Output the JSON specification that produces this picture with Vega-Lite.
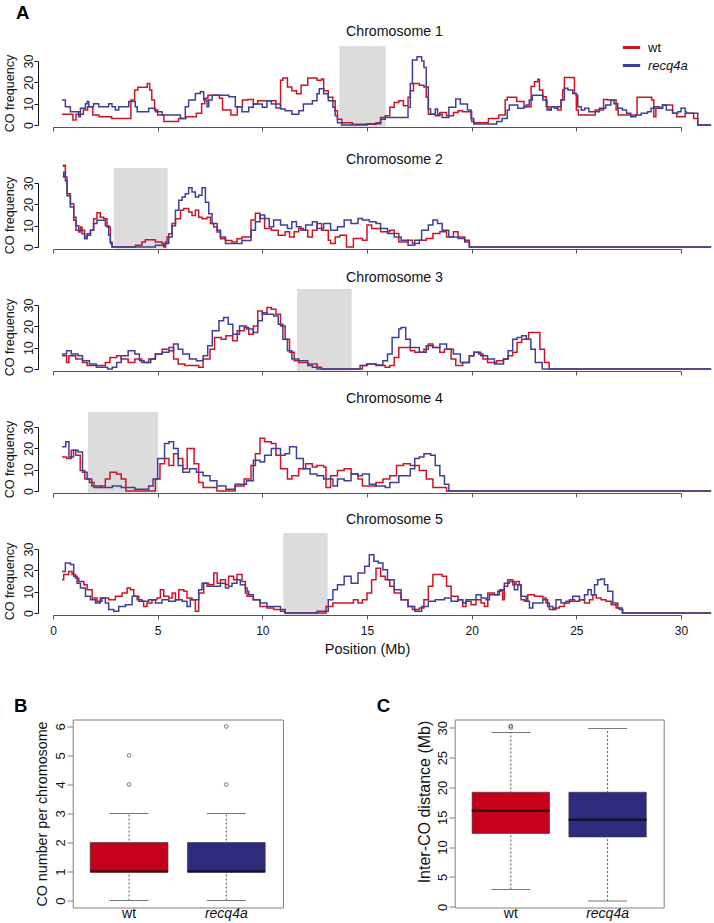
{
  "$schema": "https://vega.github.io/schema/vega-lite/v6.json",
  "padding": {"left": 3, "top": 3, "right": 0, "bottom": 0},
  "config": {
    "font": "Liberation Sans",
    "view": {"stroke": null},
    "axis": {"grid": false, "labelColor": "#111", "titleColor": "#111", "titleFontWeight": "normal", "labelFlush": false, "labelOverlap": false},
    "title": {"fontWeight": "normal", "color": "#111"}
  },
  "datasets": {
    "cen": [
      {"chr": 1, "start": 13.68, "end": 15.9},
      {"chr": 2, "start": 2.9, "end": 5.48},
      {"chr": 3, "start": 11.66, "end": 14.27},
      {"chr": 4, "start": 1.67, "end": 5.02},
      {"chr": 5, "start": 11.0, "end": 13.12}
    ],
    "bbox": [
      {"g": "wt", "lo": 0, "q1": 1, "med": 1, "q3": 2, "hi": 3},
      {"g": "recq4a", "lo": 0, "q1": 1, "med": 1, "q3": 2, "hi": 3}
    ],
    "bout": [
      {"g": "wt", "v": 4}, {"g": "wt", "v": 5}, {"g": "recq4a", "v": 4}, {"g": "recq4a", "v": 6}
    ],
    "cbox": [
      {"g": "wt", "lo": 2.9, "q1": 12.3, "med": 16.1, "q3": 19.2, "hi": 29.2},
      {"g": "recq4a", "lo": 0.95, "q1": 11.7, "med": 14.6, "q3": 19.2, "hi": 29.9}
    ],
    "cout": [
      {"g": "wt", "v": 30.05}, {"g": "wt", "v": 30.3}
    ],
    "co": [
      {"chr":1,"g":"wt","pos":0.43,"co":5},{"chr":1,"g":"wt","pos":0.95,"co":2.3},{"chr":1,"g":"wt","pos":1.1,"co":5},{"chr":1,"g":"wt","pos":1.45,"co":7},{"chr":1,"g":"wt","pos":1.65,"co":8.6},{"chr":1,"g":"wt","pos":1.9,"co":4.7},{"chr":1,"g":"wt","pos":2.2,"co":3.9},{"chr":1,"g":"wt","pos":2.8,"co":3},{"chr":1,"g":"wt","pos":3.72,"co":11.7},{"chr":1,"g":"wt","pos":3.9,"co":16.4},{"chr":1,"g":"wt","pos":4.05,"co":17.7},{"chr":1,"g":"wt","pos":4.5,"co":19.5},{"chr":1,"g":"wt","pos":4.62,"co":16.4},{"chr":1,"g":"wt","pos":4.72,"co":11.7},{"chr":1,"g":"wt","pos":4.85,"co":7},{"chr":1,"g":"wt","pos":5.0,"co":4.7},{"chr":1,"g":"wt","pos":5.3,"co":1.6},{"chr":1,"g":"wt","pos":6.0,"co":3},{"chr":1,"g":"wt","pos":6.35,"co":3.9},{"chr":1,"g":"wt","pos":6.85,"co":5.5},{"chr":1,"g":"wt","pos":7.1,"co":10},{"chr":1,"g":"wt","pos":7.25,"co":12.5},{"chr":1,"g":"wt","pos":7.4,"co":14},{"chr":1,"g":"wt","pos":7.95,"co":12.5},{"chr":1,"g":"wt","pos":8.1,"co":7},{"chr":1,"g":"wt","pos":8.5,"co":4.7},{"chr":1,"g":"wt","pos":8.8,"co":8.6},{"chr":1,"g":"wt","pos":9.05,"co":11.7},{"chr":1,"g":"wt","pos":9.3,"co":12},{"chr":1,"g":"wt","pos":9.57,"co":9.8},{"chr":1,"g":"wt","pos":9.78,"co":11.4},{"chr":1,"g":"wt","pos":10.65,"co":8},{"chr":1,"g":"wt","pos":10.87,"co":21},{"chr":1,"g":"wt","pos":10.98,"co":22},{"chr":1,"g":"wt","pos":11.2,"co":17.8},{"chr":1,"g":"wt","pos":11.41,"co":16},{"chr":1,"g":"wt","pos":11.63,"co":14.6},{"chr":1,"g":"wt","pos":11.85,"co":18.6},{"chr":1,"g":"wt","pos":12.17,"co":22},{"chr":1,"g":"wt","pos":12.61,"co":21},{"chr":1,"g":"wt","pos":12.83,"co":21.6},{"chr":1,"g":"wt","pos":12.93,"co":16},{"chr":1,"g":"wt","pos":13.15,"co":13},{"chr":1,"g":"wt","pos":13.37,"co":11.4},{"chr":1,"g":"wt","pos":13.48,"co":6.7},{"chr":1,"g":"wt","pos":13.59,"co":2.7},{"chr":1,"g":"wt","pos":13.8,"co":1.1},{"chr":1,"g":"wt","pos":14.3,"co":0.3},{"chr":1,"g":"wt","pos":15.43,"co":1},{"chr":1,"g":"wt","pos":15.65,"co":3.5},{"chr":1,"g":"wt","pos":15.87,"co":4.3},{"chr":1,"g":"wt","pos":16.09,"co":8.3},{"chr":1,"g":"wt","pos":16.3,"co":10.6},{"chr":1,"g":"wt","pos":16.52,"co":11.4},{"chr":1,"g":"wt","pos":16.74,"co":9},{"chr":1,"g":"wt","pos":16.96,"co":13},{"chr":1,"g":"wt","pos":17.07,"co":16},{"chr":1,"g":"wt","pos":17.22,"co":19.4},{"chr":1,"g":"wt","pos":17.5,"co":18.6},{"chr":1,"g":"wt","pos":17.72,"co":17.8},{"chr":1,"g":"wt","pos":17.83,"co":13},{"chr":1,"g":"wt","pos":17.93,"co":5},{"chr":1,"g":"wt","pos":18.26,"co":4.3},{"chr":1,"g":"wt","pos":18.48,"co":5.9},{"chr":1,"g":"wt","pos":18.8,"co":4.3},{"chr":1,"g":"wt","pos":19.13,"co":5.9},{"chr":1,"g":"wt","pos":19.35,"co":6.7},{"chr":1,"g":"wt","pos":19.57,"co":6.25},{"chr":1,"g":"wt","pos":20.0,"co":1.6},{"chr":1,"g":"wt","pos":20.1,"co":1.1},{"chr":1,"g":"wt","pos":20.8,"co":3.1},{"chr":1,"g":"wt","pos":21.3,"co":4.7},{"chr":1,"g":"wt","pos":21.6,"co":11.7},{"chr":1,"g":"wt","pos":21.7,"co":13},{"chr":1,"g":"wt","pos":22.15,"co":11},{"chr":1,"g":"wt","pos":22.5,"co":8.6},{"chr":1,"g":"wt","pos":22.84,"co":18},{"chr":1,"g":"wt","pos":23.0,"co":20.3},{"chr":1,"g":"wt","pos":23.16,"co":21.4},{"chr":1,"g":"wt","pos":23.24,"co":16.4},{"chr":1,"g":"wt","pos":23.4,"co":13.3},{"chr":1,"g":"wt","pos":23.56,"co":8.6},{"chr":1,"g":"wt","pos":23.7,"co":7},{"chr":1,"g":"wt","pos":23.8,"co":8.6},{"chr":1,"g":"wt","pos":24.11,"co":7},{"chr":1,"g":"wt","pos":24.27,"co":11.7},{"chr":1,"g":"wt","pos":24.35,"co":16.4},{"chr":1,"g":"wt","pos":24.43,"co":22.3},{"chr":1,"g":"wt","pos":24.91,"co":14.8},{"chr":1,"g":"wt","pos":25.0,"co":7},{"chr":1,"g":"wt","pos":25.1,"co":4.7},{"chr":1,"g":"wt","pos":25.9,"co":7},{"chr":1,"g":"wt","pos":26.3,"co":12},{"chr":1,"g":"wt","pos":26.5,"co":11.7},{"chr":1,"g":"wt","pos":26.9,"co":7},{"chr":1,"g":"wt","pos":27.0,"co":4.7},{"chr":1,"g":"wt","pos":27.9,"co":13},{"chr":1,"g":"wt","pos":28.6,"co":11.7},{"chr":1,"g":"wt","pos":28.7,"co":3.9},{"chr":1,"g":"wt","pos":28.8,"co":7.8},{"chr":1,"g":"wt","pos":29.1,"co":9.4},{"chr":1,"g":"wt","pos":29.6,"co":5.5},{"chr":1,"g":"wt","pos":29.8,"co":3.9},{"chr":1,"g":"wt","pos":30.2,"co":5.5},{"chr":1,"g":"wt","pos":30.6,"co":3.1},{"chr":1,"g":"wt","pos":30.8,"co":0},{"chr":1,"g":"wt","pos":31.44,"co":0},
      {"chr":1,"g":"recq4a","pos":0.43,"co":11.7},{"chr":1,"g":"recq4a","pos":0.59,"co":8.6},{"chr":1,"g":"recq4a","pos":0.83,"co":6.25},{"chr":1,"g":"recq4a","pos":1.23,"co":3.9},{"chr":1,"g":"recq4a","pos":1.31,"co":7.8},{"chr":1,"g":"recq4a","pos":1.55,"co":10},{"chr":1,"g":"recq4a","pos":1.63,"co":11},{"chr":1,"g":"recq4a","pos":1.71,"co":8.6},{"chr":1,"g":"recq4a","pos":1.94,"co":10},{"chr":1,"g":"recq4a","pos":2.18,"co":8.6},{"chr":1,"g":"recq4a","pos":2.66,"co":10},{"chr":1,"g":"recq4a","pos":2.82,"co":8.6},{"chr":1,"g":"recq4a","pos":2.98,"co":7},{"chr":1,"g":"recq4a","pos":3.14,"co":8.6},{"chr":1,"g":"recq4a","pos":3.62,"co":11},{"chr":1,"g":"recq4a","pos":3.93,"co":8.6},{"chr":1,"g":"recq4a","pos":4.02,"co":6.25},{"chr":1,"g":"recq4a","pos":4.57,"co":7.8},{"chr":1,"g":"recq4a","pos":4.89,"co":6.25},{"chr":1,"g":"recq4a","pos":5.21,"co":4.7},{"chr":1,"g":"recq4a","pos":6.09,"co":3},{"chr":1,"g":"recq4a","pos":6.32,"co":8.6},{"chr":1,"g":"recq4a","pos":6.48,"co":11.7},{"chr":1,"g":"recq4a","pos":6.8,"co":14.8},{"chr":1,"g":"recq4a","pos":7.04,"co":15.6},{"chr":1,"g":"recq4a","pos":7.2,"co":11.7},{"chr":1,"g":"recq4a","pos":7.36,"co":8.6},{"chr":1,"g":"recq4a","pos":7.44,"co":11.7},{"chr":1,"g":"recq4a","pos":7.6,"co":14},{"chr":1,"g":"recq4a","pos":8.4,"co":13.3},{"chr":1,"g":"recq4a","pos":8.71,"co":8.6},{"chr":1,"g":"recq4a","pos":9.03,"co":6.25},{"chr":1,"g":"recq4a","pos":9.35,"co":8.3},{"chr":1,"g":"recq4a","pos":9.57,"co":9.8},{"chr":1,"g":"recq4a","pos":10.0,"co":8.3},{"chr":1,"g":"recq4a","pos":10.22,"co":11.4},{"chr":1,"g":"recq4a","pos":10.43,"co":9.8},{"chr":1,"g":"recq4a","pos":10.87,"co":7.5},{"chr":1,"g":"recq4a","pos":11.09,"co":6.7},{"chr":1,"g":"recq4a","pos":11.41,"co":5},{"chr":1,"g":"recq4a","pos":11.74,"co":6.7},{"chr":1,"g":"recq4a","pos":11.96,"co":9.8},{"chr":1,"g":"recq4a","pos":12.39,"co":11.4},{"chr":1,"g":"recq4a","pos":12.61,"co":14.6},{"chr":1,"g":"recq4a","pos":12.72,"co":17},{"chr":1,"g":"recq4a","pos":12.93,"co":14.6},{"chr":1,"g":"recq4a","pos":13.15,"co":11.4},{"chr":1,"g":"recq4a","pos":13.37,"co":8.3},{"chr":1,"g":"recq4a","pos":13.48,"co":4.3},{"chr":1,"g":"recq4a","pos":13.59,"co":1.1},{"chr":1,"g":"recq4a","pos":13.8,"co":0},{"chr":1,"g":"recq4a","pos":15.0,"co":0.6},{"chr":1,"g":"recq4a","pos":15.65,"co":2.7},{"chr":1,"g":"recq4a","pos":15.87,"co":3.5},{"chr":1,"g":"recq4a","pos":16.96,"co":8.3},{"chr":1,"g":"recq4a","pos":17.07,"co":19.4},{"chr":1,"g":"recq4a","pos":17.17,"co":30.5},{"chr":1,"g":"recq4a","pos":17.39,"co":32},{"chr":1,"g":"recq4a","pos":17.61,"co":30},{"chr":1,"g":"recq4a","pos":17.72,"co":27},{"chr":1,"g":"recq4a","pos":17.83,"co":17.8},{"chr":1,"g":"recq4a","pos":17.93,"co":7.5},{"chr":1,"g":"recq4a","pos":18.04,"co":5},{"chr":1,"g":"recq4a","pos":18.26,"co":7.5},{"chr":1,"g":"recq4a","pos":18.37,"co":5},{"chr":1,"g":"recq4a","pos":18.59,"co":3.5},{"chr":1,"g":"recq4a","pos":18.91,"co":8.3},{"chr":1,"g":"recq4a","pos":19.24,"co":12.2},{"chr":1,"g":"recq4a","pos":19.46,"co":9.8},{"chr":1,"g":"recq4a","pos":19.8,"co":7},{"chr":1,"g":"recq4a","pos":19.97,"co":3.1},{"chr":1,"g":"recq4a","pos":20.1,"co":0.5},{"chr":1,"g":"recq4a","pos":21.2,"co":1.6},{"chr":1,"g":"recq4a","pos":21.45,"co":3.1},{"chr":1,"g":"recq4a","pos":21.7,"co":7},{"chr":1,"g":"recq4a","pos":21.8,"co":9.4},{"chr":1,"g":"recq4a","pos":22.2,"co":7.8},{"chr":1,"g":"recq4a","pos":22.5,"co":8.6},{"chr":1,"g":"recq4a","pos":22.6,"co":9.4},{"chr":1,"g":"recq4a","pos":22.75,"co":11.7},{"chr":1,"g":"recq4a","pos":22.9,"co":14},{"chr":1,"g":"recq4a","pos":23.4,"co":11.7},{"chr":1,"g":"recq4a","pos":23.6,"co":7},{"chr":1,"g":"recq4a","pos":23.8,"co":8.6},{"chr":1,"g":"recq4a","pos":23.95,"co":7.8},{"chr":1,"g":"recq4a","pos":24.1,"co":8.6},{"chr":1,"g":"recq4a","pos":24.27,"co":11.7},{"chr":1,"g":"recq4a","pos":24.43,"co":17.2},{"chr":1,"g":"recq4a","pos":24.6,"co":16.4},{"chr":1,"g":"recq4a","pos":24.83,"co":14.8},{"chr":1,"g":"recq4a","pos":25.0,"co":14},{"chr":1,"g":"recq4a","pos":25.07,"co":8.6},{"chr":1,"g":"recq4a","pos":25.23,"co":7},{"chr":1,"g":"recq4a","pos":25.4,"co":7.8},{"chr":1,"g":"recq4a","pos":25.6,"co":6.25},{"chr":1,"g":"recq4a","pos":26.1,"co":7.8},{"chr":1,"g":"recq4a","pos":26.4,"co":9.4},{"chr":1,"g":"recq4a","pos":26.65,"co":11.7},{"chr":1,"g":"recq4a","pos":26.8,"co":10},{"chr":1,"g":"recq4a","pos":26.98,"co":7.8},{"chr":1,"g":"recq4a","pos":27.2,"co":7},{"chr":1,"g":"recq4a","pos":27.4,"co":5.5},{"chr":1,"g":"recq4a","pos":27.6,"co":3.9},{"chr":1,"g":"recq4a","pos":27.85,"co":4.7},{"chr":1,"g":"recq4a","pos":28.1,"co":5.5},{"chr":1,"g":"recq4a","pos":28.4,"co":6.25},{"chr":1,"g":"recq4a","pos":28.57,"co":7.8},{"chr":1,"g":"recq4a","pos":28.73,"co":8.6},{"chr":1,"g":"recq4a","pos":28.97,"co":7.8},{"chr":1,"g":"recq4a","pos":29.13,"co":9.4},{"chr":1,"g":"recq4a","pos":29.3,"co":7},{"chr":1,"g":"recq4a","pos":29.6,"co":5.5},{"chr":1,"g":"recq4a","pos":29.85,"co":6.25},{"chr":1,"g":"recq4a","pos":30.0,"co":7.8},{"chr":1,"g":"recq4a","pos":30.2,"co":6.25},{"chr":1,"g":"recq4a","pos":30.24,"co":5.5},{"chr":1,"g":"recq4a","pos":30.8,"co":0},{"chr":1,"g":"recq4a","pos":31.44,"co":0},
      {"chr":2,"g":"wt","pos":0.47,"co":37.8},{"chr":2,"g":"wt","pos":0.51,"co":38.3},{"chr":2,"g":"wt","pos":0.59,"co":32.8},{"chr":2,"g":"wt","pos":0.67,"co":25},{"chr":2,"g":"wt","pos":0.83,"co":20.3},{"chr":2,"g":"wt","pos":0.99,"co":12.5},{"chr":2,"g":"wt","pos":1.1,"co":7.8},{"chr":2,"g":"wt","pos":1.23,"co":7},{"chr":2,"g":"wt","pos":1.31,"co":9.4},{"chr":2,"g":"wt","pos":1.39,"co":7.8},{"chr":2,"g":"wt","pos":1.51,"co":4.7},{"chr":2,"g":"wt","pos":1.63,"co":6.25},{"chr":2,"g":"wt","pos":1.79,"co":7.8},{"chr":2,"g":"wt","pos":1.94,"co":13.3},{"chr":2,"g":"wt","pos":2.1,"co":16},{"chr":2,"g":"wt","pos":2.26,"co":14},{"chr":2,"g":"wt","pos":2.42,"co":13.3},{"chr":2,"g":"wt","pos":2.58,"co":9.4},{"chr":2,"g":"wt","pos":2.74,"co":2.3},{"chr":2,"g":"wt","pos":2.82,"co":0},{"chr":2,"g":"wt","pos":3.94,"co":0.8},{"chr":2,"g":"wt","pos":4.25,"co":2.3},{"chr":2,"g":"wt","pos":4.41,"co":3.4},{"chr":2,"g":"wt","pos":4.81,"co":3.4},{"chr":2,"g":"wt","pos":4.89,"co":2.3},{"chr":2,"g":"wt","pos":5.21,"co":1.6},{"chr":2,"g":"wt","pos":5.29,"co":0},{"chr":2,"g":"wt","pos":5.37,"co":2.3},{"chr":2,"g":"wt","pos":5.45,"co":4.7},{"chr":2,"g":"wt","pos":5.53,"co":6.25},{"chr":2,"g":"wt","pos":5.69,"co":11},{"chr":2,"g":"wt","pos":5.85,"co":13.3},{"chr":2,"g":"wt","pos":6.09,"co":17.2},{"chr":2,"g":"wt","pos":6.24,"co":18},{"chr":2,"g":"wt","pos":6.48,"co":16.4},{"chr":2,"g":"wt","pos":6.64,"co":14.8},{"chr":2,"g":"wt","pos":6.8,"co":17.2},{"chr":2,"g":"wt","pos":6.96,"co":14},{"chr":2,"g":"wt","pos":7.12,"co":13.3},{"chr":2,"g":"wt","pos":7.36,"co":14},{"chr":2,"g":"wt","pos":7.52,"co":11},{"chr":2,"g":"wt","pos":7.68,"co":9.4},{"chr":2,"g":"wt","pos":7.84,"co":7},{"chr":2,"g":"wt","pos":8.0,"co":3.9},{"chr":2,"g":"wt","pos":8.24,"co":3.1},{"chr":2,"g":"wt","pos":8.55,"co":2.3},{"chr":2,"g":"wt","pos":8.79,"co":3.9},{"chr":2,"g":"wt","pos":9.03,"co":4.7},{"chr":2,"g":"wt","pos":9.46,"co":12.6},{"chr":2,"g":"wt","pos":9.67,"co":15.8},{"chr":2,"g":"wt","pos":9.89,"co":13.4},{"chr":2,"g":"wt","pos":10.11,"co":8.7},{"chr":2,"g":"wt","pos":10.43,"co":7.9},{"chr":2,"g":"wt","pos":10.76,"co":5.5},{"chr":2,"g":"wt","pos":11.09,"co":7.1},{"chr":2,"g":"wt","pos":11.3,"co":4.7},{"chr":2,"g":"wt","pos":11.52,"co":7.1},{"chr":2,"g":"wt","pos":11.74,"co":8.7},{"chr":2,"g":"wt","pos":11.96,"co":7.9},{"chr":2,"g":"wt","pos":12.17,"co":4.7},{"chr":2,"g":"wt","pos":12.39,"co":7.9},{"chr":2,"g":"wt","pos":12.61,"co":11},{"chr":2,"g":"wt","pos":12.83,"co":7.9},{"chr":2,"g":"wt","pos":13.15,"co":3.2},{"chr":2,"g":"wt","pos":13.26,"co":1.6},{"chr":2,"g":"wt","pos":13.48,"co":4.7},{"chr":2,"g":"wt","pos":13.7,"co":5.5},{"chr":2,"g":"wt","pos":14.02,"co":0},{"chr":2,"g":"wt","pos":14.35,"co":4},{"chr":2,"g":"wt","pos":14.78,"co":3.2},{"chr":2,"g":"wt","pos":15.0,"co":10.3},{"chr":2,"g":"wt","pos":15.22,"co":8.7},{"chr":2,"g":"wt","pos":15.65,"co":7.1},{"chr":2,"g":"wt","pos":16.09,"co":7.9},{"chr":2,"g":"wt","pos":16.3,"co":6.3},{"chr":2,"g":"wt","pos":16.52,"co":2.4},{"chr":2,"g":"wt","pos":16.96,"co":3.2},{"chr":2,"g":"wt","pos":17.17,"co":1.6},{"chr":2,"g":"wt","pos":17.5,"co":3.2},{"chr":2,"g":"wt","pos":17.83,"co":4},{"chr":2,"g":"wt","pos":18.15,"co":6.3},{"chr":2,"g":"wt","pos":18.48,"co":7.1},{"chr":2,"g":"wt","pos":18.8,"co":4.7},{"chr":2,"g":"wt","pos":19.13,"co":7.1},{"chr":2,"g":"wt","pos":19.35,"co":4.7},{"chr":2,"g":"wt","pos":19.67,"co":3.2},{"chr":2,"g":"wt","pos":19.89,"co":0},{"chr":2,"g":"wt","pos":31.44,"co":0},
      {"chr":2,"g":"recq4a","pos":0.47,"co":32.8},{"chr":2,"g":"recq4a","pos":0.51,"co":35},{"chr":2,"g":"recq4a","pos":0.59,"co":31},{"chr":2,"g":"recq4a","pos":0.67,"co":24},{"chr":2,"g":"recq4a","pos":0.83,"co":18.8},{"chr":2,"g":"recq4a","pos":0.99,"co":14},{"chr":2,"g":"recq4a","pos":1.1,"co":10},{"chr":2,"g":"recq4a","pos":1.23,"co":7.8},{"chr":2,"g":"recq4a","pos":1.39,"co":6.25},{"chr":2,"g":"recq4a","pos":1.51,"co":3.9},{"chr":2,"g":"recq4a","pos":1.63,"co":5.5},{"chr":2,"g":"recq4a","pos":1.79,"co":7.8},{"chr":2,"g":"recq4a","pos":1.94,"co":11},{"chr":2,"g":"recq4a","pos":2.1,"co":12.5},{"chr":2,"g":"recq4a","pos":2.34,"co":12.5},{"chr":2,"g":"recq4a","pos":2.5,"co":10},{"chr":2,"g":"recq4a","pos":2.66,"co":5.5},{"chr":2,"g":"recq4a","pos":2.74,"co":1.6},{"chr":2,"g":"recq4a","pos":2.82,"co":0},{"chr":2,"g":"recq4a","pos":4.89,"co":0.8},{"chr":2,"g":"recq4a","pos":5.37,"co":1.6},{"chr":2,"g":"recq4a","pos":5.53,"co":4.7},{"chr":2,"g":"recq4a","pos":5.69,"co":10},{"chr":2,"g":"recq4a","pos":5.85,"co":17.2},{"chr":2,"g":"recq4a","pos":6.01,"co":21.9},{"chr":2,"g":"recq4a","pos":6.17,"co":23.4},{"chr":2,"g":"recq4a","pos":6.32,"co":25},{"chr":2,"g":"recq4a","pos":6.48,"co":27.8},{"chr":2,"g":"recq4a","pos":6.64,"co":25.8},{"chr":2,"g":"recq4a","pos":6.8,"co":23.4},{"chr":2,"g":"recq4a","pos":6.96,"co":24.2},{"chr":2,"g":"recq4a","pos":7.12,"co":27.8},{"chr":2,"g":"recq4a","pos":7.28,"co":21},{"chr":2,"g":"recq4a","pos":7.44,"co":15.6},{"chr":2,"g":"recq4a","pos":7.6,"co":11},{"chr":2,"g":"recq4a","pos":7.84,"co":7.8},{"chr":2,"g":"recq4a","pos":8.0,"co":4.7},{"chr":2,"g":"recq4a","pos":8.24,"co":1.6},{"chr":2,"g":"recq4a","pos":9.03,"co":3.1},{"chr":2,"g":"recq4a","pos":9.46,"co":7.9},{"chr":2,"g":"recq4a","pos":9.67,"co":11.8},{"chr":2,"g":"recq4a","pos":9.89,"co":15},{"chr":2,"g":"recq4a","pos":10.11,"co":13.4},{"chr":2,"g":"recq4a","pos":10.33,"co":9.5},{"chr":2,"g":"recq4a","pos":10.54,"co":12.6},{"chr":2,"g":"recq4a","pos":10.87,"co":10.3},{"chr":2,"g":"recq4a","pos":11.2,"co":8.7},{"chr":2,"g":"recq4a","pos":11.41,"co":11.8},{"chr":2,"g":"recq4a","pos":11.63,"co":9.5},{"chr":2,"g":"recq4a","pos":11.85,"co":7.9},{"chr":2,"g":"recq4a","pos":12.07,"co":10.3},{"chr":2,"g":"recq4a","pos":12.39,"co":11.8},{"chr":2,"g":"recq4a","pos":12.61,"co":8.7},{"chr":2,"g":"recq4a","pos":12.93,"co":11},{"chr":2,"g":"recq4a","pos":13.26,"co":7.9},{"chr":2,"g":"recq4a","pos":13.59,"co":9.5},{"chr":2,"g":"recq4a","pos":13.91,"co":12.6},{"chr":2,"g":"recq4a","pos":14.24,"co":11},{"chr":2,"g":"recq4a","pos":14.57,"co":13.4},{"chr":2,"g":"recq4a","pos":14.78,"co":12.6},{"chr":2,"g":"recq4a","pos":15.11,"co":11.8},{"chr":2,"g":"recq4a","pos":15.43,"co":11},{"chr":2,"g":"recq4a","pos":15.65,"co":8.7},{"chr":2,"g":"recq4a","pos":15.98,"co":6.3},{"chr":2,"g":"recq4a","pos":16.3,"co":4.7},{"chr":2,"g":"recq4a","pos":16.63,"co":3.2},{"chr":2,"g":"recq4a","pos":16.96,"co":0.8},{"chr":2,"g":"recq4a","pos":17.28,"co":3.2},{"chr":2,"g":"recq4a","pos":17.61,"co":7.9},{"chr":2,"g":"recq4a","pos":17.93,"co":10.3},{"chr":2,"g":"recq4a","pos":18.15,"co":12.6},{"chr":2,"g":"recq4a","pos":18.37,"co":11},{"chr":2,"g":"recq4a","pos":18.59,"co":7.9},{"chr":2,"g":"recq4a","pos":18.91,"co":4.7},{"chr":2,"g":"recq4a","pos":19.35,"co":4},{"chr":2,"g":"recq4a","pos":19.67,"co":2.4},{"chr":2,"g":"recq4a","pos":19.89,"co":0},{"chr":2,"g":"recq4a","pos":31.44,"co":0},
      {"chr":3,"g":"wt","pos":0.43,"co":6.2},{"chr":3,"g":"wt","pos":0.65,"co":3.1},{"chr":3,"g":"wt","pos":0.76,"co":6.2},{"chr":3,"g":"wt","pos":1.09,"co":4.7},{"chr":3,"g":"wt","pos":1.41,"co":3.1},{"chr":3,"g":"wt","pos":1.63,"co":1.6},{"chr":3,"g":"wt","pos":2.5,"co":3.1},{"chr":3,"g":"wt","pos":2.72,"co":5.4},{"chr":3,"g":"wt","pos":3.04,"co":6.2},{"chr":3,"g":"wt","pos":3.26,"co":4.7},{"chr":3,"g":"wt","pos":3.59,"co":3.1},{"chr":3,"g":"wt","pos":3.91,"co":4.7},{"chr":3,"g":"wt","pos":4.24,"co":3.1},{"chr":3,"g":"wt","pos":4.57,"co":4.7},{"chr":3,"g":"wt","pos":4.89,"co":7},{"chr":3,"g":"wt","pos":5.22,"co":9.3},{"chr":3,"g":"wt","pos":5.54,"co":10.1},{"chr":3,"g":"wt","pos":5.76,"co":4.7},{"chr":3,"g":"wt","pos":5.98,"co":2.3},{"chr":3,"g":"wt","pos":6.3,"co":1.6},{"chr":3,"g":"wt","pos":6.96,"co":0.8},{"chr":3,"g":"wt","pos":7.17,"co":4.7},{"chr":3,"g":"wt","pos":7.5,"co":9.3},{"chr":3,"g":"wt","pos":7.72,"co":14.8},{"chr":3,"g":"wt","pos":8.04,"co":14},{"chr":3,"g":"wt","pos":8.26,"co":15.6},{"chr":3,"g":"wt","pos":8.59,"co":13.2},{"chr":3,"g":"wt","pos":8.8,"co":17.9},{"chr":3,"g":"wt","pos":9.13,"co":19.4},{"chr":3,"g":"wt","pos":9.35,"co":16.3},{"chr":3,"g":"wt","pos":9.57,"co":20.2},{"chr":3,"g":"wt","pos":9.78,"co":27.2},{"chr":3,"g":"wt","pos":10.0,"co":25.7},{"chr":3,"g":"wt","pos":10.22,"co":28.8},{"chr":3,"g":"wt","pos":10.43,"co":28},{"chr":3,"g":"wt","pos":10.65,"co":25.7},{"chr":3,"g":"wt","pos":10.87,"co":20.2},{"chr":3,"g":"wt","pos":11.09,"co":14},{"chr":3,"g":"wt","pos":11.3,"co":7.8},{"chr":3,"g":"wt","pos":11.52,"co":3.9},{"chr":3,"g":"wt","pos":11.74,"co":3.1},{"chr":3,"g":"wt","pos":12.17,"co":2.3},{"chr":3,"g":"wt","pos":12.61,"co":0.8},{"chr":3,"g":"wt","pos":12.83,"co":0},{"chr":3,"g":"wt","pos":14.78,"co":1.6},{"chr":3,"g":"wt","pos":15.0,"co":2.3},{"chr":3,"g":"wt","pos":15.43,"co":1.6},{"chr":3,"g":"wt","pos":15.87,"co":0.8},{"chr":3,"g":"wt","pos":16.09,"co":1.6},{"chr":3,"g":"wt","pos":16.3,"co":5.4},{"chr":3,"g":"wt","pos":16.52,"co":10.1},{"chr":3,"g":"wt","pos":17.07,"co":8.6},{"chr":3,"g":"wt","pos":17.28,"co":7.8},{"chr":3,"g":"wt","pos":17.72,"co":9.3},{"chr":3,"g":"wt","pos":17.93,"co":11.7},{"chr":3,"g":"wt","pos":18.15,"co":10.1},{"chr":3,"g":"wt","pos":18.48,"co":7.8},{"chr":3,"g":"wt","pos":18.7,"co":9.3},{"chr":3,"g":"wt","pos":19.02,"co":4.7},{"chr":3,"g":"wt","pos":19.24,"co":1.6},{"chr":3,"g":"wt","pos":19.57,"co":3.1},{"chr":3,"g":"wt","pos":19.89,"co":6.2},{"chr":3,"g":"wt","pos":20.11,"co":7.8},{"chr":3,"g":"wt","pos":20.33,"co":7},{"chr":3,"g":"wt","pos":20.54,"co":4.7},{"chr":3,"g":"wt","pos":20.76,"co":3.1},{"chr":3,"g":"wt","pos":21.2,"co":3.9},{"chr":3,"g":"wt","pos":21.52,"co":4.7},{"chr":3,"g":"wt","pos":21.74,"co":6.2},{"chr":3,"g":"wt","pos":21.96,"co":7.8},{"chr":3,"g":"wt","pos":22.17,"co":12.4},{"chr":3,"g":"wt","pos":22.39,"co":14},{"chr":3,"g":"wt","pos":22.72,"co":17.1},{"chr":3,"g":"wt","pos":23.26,"co":9.3},{"chr":3,"g":"wt","pos":23.48,"co":3.1},{"chr":3,"g":"wt","pos":23.7,"co":0},{"chr":3,"g":"wt","pos":31.44,"co":0},
      {"chr":3,"g":"recq4a","pos":0.43,"co":7},{"chr":3,"g":"recq4a","pos":0.65,"co":8.6},{"chr":3,"g":"recq4a","pos":0.87,"co":7},{"chr":3,"g":"recq4a","pos":1.2,"co":6.2},{"chr":3,"g":"recq4a","pos":1.41,"co":3.9},{"chr":3,"g":"recq4a","pos":1.74,"co":2.3},{"chr":3,"g":"recq4a","pos":2.07,"co":0.8},{"chr":3,"g":"recq4a","pos":2.61,"co":0},{"chr":3,"g":"recq4a","pos":2.83,"co":0.8},{"chr":3,"g":"recq4a","pos":3.04,"co":3.1},{"chr":3,"g":"recq4a","pos":3.26,"co":6.2},{"chr":3,"g":"recq4a","pos":3.59,"co":8.6},{"chr":3,"g":"recq4a","pos":3.91,"co":7},{"chr":3,"g":"recq4a","pos":4.13,"co":3.9},{"chr":3,"g":"recq4a","pos":4.35,"co":3.1},{"chr":3,"g":"recq4a","pos":4.67,"co":4.7},{"chr":3,"g":"recq4a","pos":4.89,"co":7},{"chr":3,"g":"recq4a","pos":5.22,"co":7.8},{"chr":3,"g":"recq4a","pos":5.54,"co":8.6},{"chr":3,"g":"recq4a","pos":5.76,"co":11.7},{"chr":3,"g":"recq4a","pos":5.98,"co":9.3},{"chr":3,"g":"recq4a","pos":6.2,"co":7},{"chr":3,"g":"recq4a","pos":6.52,"co":4.7},{"chr":3,"g":"recq4a","pos":6.85,"co":3.9},{"chr":3,"g":"recq4a","pos":7.17,"co":6.2},{"chr":3,"g":"recq4a","pos":7.39,"co":10.9},{"chr":3,"g":"recq4a","pos":7.61,"co":17.9},{"chr":3,"g":"recq4a","pos":7.93,"co":22.6},{"chr":3,"g":"recq4a","pos":8.15,"co":24.1},{"chr":3,"g":"recq4a","pos":8.37,"co":21},{"chr":3,"g":"recq4a","pos":8.59,"co":16.3},{"chr":3,"g":"recq4a","pos":8.91,"co":20.2},{"chr":3,"g":"recq4a","pos":9.24,"co":18.7},{"chr":3,"g":"recq4a","pos":9.57,"co":17.1},{"chr":3,"g":"recq4a","pos":9.78,"co":22.6},{"chr":3,"g":"recq4a","pos":10.0,"co":26.4},{"chr":3,"g":"recq4a","pos":10.22,"co":25.7},{"chr":3,"g":"recq4a","pos":10.54,"co":24.9},{"chr":3,"g":"recq4a","pos":10.76,"co":21},{"chr":3,"g":"recq4a","pos":10.98,"co":14},{"chr":3,"g":"recq4a","pos":11.2,"co":8.6},{"chr":3,"g":"recq4a","pos":11.41,"co":4.7},{"chr":3,"g":"recq4a","pos":11.74,"co":3.9},{"chr":3,"g":"recq4a","pos":12.17,"co":1.6},{"chr":3,"g":"recq4a","pos":12.39,"co":0.8},{"chr":3,"g":"recq4a","pos":12.61,"co":0},{"chr":3,"g":"recq4a","pos":14.67,"co":1.6},{"chr":3,"g":"recq4a","pos":15.0,"co":2.3},{"chr":3,"g":"recq4a","pos":15.43,"co":1.9},{"chr":3,"g":"recq4a","pos":15.76,"co":3.9},{"chr":3,"g":"recq4a","pos":15.98,"co":7},{"chr":3,"g":"recq4a","pos":16.2,"co":14.8},{"chr":3,"g":"recq4a","pos":16.52,"co":18.7},{"chr":3,"g":"recq4a","pos":16.63,"co":19.4},{"chr":3,"g":"recq4a","pos":16.85,"co":14},{"chr":3,"g":"recq4a","pos":17.07,"co":10.1},{"chr":3,"g":"recq4a","pos":17.5,"co":7.8},{"chr":3,"g":"recq4a","pos":17.83,"co":10.9},{"chr":3,"g":"recq4a","pos":18.15,"co":10.1},{"chr":3,"g":"recq4a","pos":18.48,"co":11.7},{"chr":3,"g":"recq4a","pos":18.8,"co":9.3},{"chr":3,"g":"recq4a","pos":19.13,"co":7},{"chr":3,"g":"recq4a","pos":19.46,"co":3.1},{"chr":3,"g":"recq4a","pos":19.89,"co":6.2},{"chr":3,"g":"recq4a","pos":20.11,"co":7.8},{"chr":3,"g":"recq4a","pos":20.43,"co":6.2},{"chr":3,"g":"recq4a","pos":20.76,"co":4.7},{"chr":3,"g":"recq4a","pos":21.09,"co":2.3},{"chr":3,"g":"recq4a","pos":21.52,"co":4.7},{"chr":3,"g":"recq4a","pos":21.74,"co":8.6},{"chr":3,"g":"recq4a","pos":21.96,"co":14},{"chr":3,"g":"recq4a","pos":22.17,"co":14.8},{"chr":3,"g":"recq4a","pos":22.39,"co":15.6},{"chr":3,"g":"recq4a","pos":22.61,"co":14},{"chr":3,"g":"recq4a","pos":22.83,"co":9.3},{"chr":3,"g":"recq4a","pos":23.04,"co":3.1},{"chr":3,"g":"recq4a","pos":23.37,"co":0},{"chr":3,"g":"recq4a","pos":31.44,"co":0},
      {"chr":4,"g":"wt","pos":0.43,"co":15.9},{"chr":4,"g":"wt","pos":0.65,"co":15.2},{"chr":4,"g":"wt","pos":0.87,"co":19.1},{"chr":4,"g":"wt","pos":1.09,"co":16.7},{"chr":4,"g":"wt","pos":1.3,"co":9.6},{"chr":4,"g":"wt","pos":1.52,"co":5.6},{"chr":4,"g":"wt","pos":1.74,"co":4},{"chr":4,"g":"wt","pos":1.96,"co":1.6},{"chr":4,"g":"wt","pos":2.28,"co":2.4},{"chr":4,"g":"wt","pos":2.5,"co":5.6},{"chr":4,"g":"wt","pos":2.72,"co":8.8},{"chr":4,"g":"wt","pos":3.04,"co":8},{"chr":4,"g":"wt","pos":3.26,"co":5.6},{"chr":4,"g":"wt","pos":3.48,"co":0},{"chr":4,"g":"wt","pos":4.89,"co":5.6},{"chr":4,"g":"wt","pos":5.11,"co":12.8},{"chr":4,"g":"wt","pos":5.33,"co":15.2},{"chr":4,"g":"wt","pos":5.54,"co":12},{"chr":4,"g":"wt","pos":5.76,"co":17.5},{"chr":4,"g":"wt","pos":5.98,"co":15.2},{"chr":4,"g":"wt","pos":6.2,"co":10.4},{"chr":4,"g":"wt","pos":6.41,"co":19.9},{"chr":4,"g":"wt","pos":6.74,"co":12.8},{"chr":4,"g":"wt","pos":6.96,"co":4},{"chr":4,"g":"wt","pos":7.17,"co":1.6},{"chr":4,"g":"wt","pos":7.83,"co":0},{"chr":4,"g":"wt","pos":8.7,"co":2.4},{"chr":4,"g":"wt","pos":9.13,"co":5.6},{"chr":4,"g":"wt","pos":9.46,"co":12},{"chr":4,"g":"wt","pos":9.67,"co":17.5},{"chr":4,"g":"wt","pos":9.89,"co":24.7},{"chr":4,"g":"wt","pos":10.11,"co":23.1},{"chr":4,"g":"wt","pos":10.43,"co":22.3},{"chr":4,"g":"wt","pos":10.65,"co":16.7},{"chr":4,"g":"wt","pos":10.87,"co":10.4},{"chr":4,"g":"wt","pos":11.2,"co":5.6},{"chr":4,"g":"wt","pos":11.41,"co":7.2},{"chr":4,"g":"wt","pos":11.74,"co":10.4},{"chr":4,"g":"wt","pos":12.07,"co":12.8},{"chr":4,"g":"wt","pos":12.39,"co":11.2},{"chr":4,"g":"wt","pos":12.61,"co":12},{"chr":4,"g":"wt","pos":12.93,"co":11.2},{"chr":4,"g":"wt","pos":13.04,"co":1.6},{"chr":4,"g":"wt","pos":13.26,"co":7.2},{"chr":4,"g":"wt","pos":13.59,"co":9.6},{"chr":4,"g":"wt","pos":13.91,"co":10.4},{"chr":4,"g":"wt","pos":14.24,"co":8},{"chr":4,"g":"wt","pos":14.57,"co":5.6},{"chr":4,"g":"wt","pos":14.78,"co":2.4},{"chr":4,"g":"wt","pos":15.43,"co":4},{"chr":4,"g":"wt","pos":15.76,"co":5.6},{"chr":4,"g":"wt","pos":16.09,"co":7.2},{"chr":4,"g":"wt","pos":16.41,"co":12},{"chr":4,"g":"wt","pos":16.74,"co":12.8},{"chr":4,"g":"wt","pos":17.07,"co":12},{"chr":4,"g":"wt","pos":17.5,"co":9.6},{"chr":4,"g":"wt","pos":17.83,"co":5.6},{"chr":4,"g":"wt","pos":18.15,"co":1.6},{"chr":4,"g":"wt","pos":18.8,"co":0},{"chr":4,"g":"wt","pos":31.44,"co":0},
      {"chr":4,"g":"recq4a","pos":0.43,"co":20.7},{"chr":4,"g":"recq4a","pos":0.61,"co":23.1},{"chr":4,"g":"recq4a","pos":0.76,"co":15.9},{"chr":4,"g":"recq4a","pos":0.98,"co":19.1},{"chr":4,"g":"recq4a","pos":1.2,"co":18.3},{"chr":4,"g":"recq4a","pos":1.41,"co":8.8},{"chr":4,"g":"recq4a","pos":1.63,"co":5.6},{"chr":4,"g":"recq4a","pos":1.85,"co":2.4},{"chr":4,"g":"recq4a","pos":2.28,"co":1.6},{"chr":4,"g":"recq4a","pos":2.83,"co":2.4},{"chr":4,"g":"recq4a","pos":3.26,"co":1.6},{"chr":4,"g":"recq4a","pos":3.91,"co":0.8},{"chr":4,"g":"recq4a","pos":4.57,"co":2.4},{"chr":4,"g":"recq4a","pos":4.78,"co":5.6},{"chr":4,"g":"recq4a","pos":5.0,"co":15.2},{"chr":4,"g":"recq4a","pos":5.33,"co":22.3},{"chr":4,"g":"recq4a","pos":5.54,"co":23.1},{"chr":4,"g":"recq4a","pos":5.76,"co":19.9},{"chr":4,"g":"recq4a","pos":5.98,"co":12},{"chr":4,"g":"recq4a","pos":6.2,"co":8.8},{"chr":4,"g":"recq4a","pos":6.52,"co":10.4},{"chr":4,"g":"recq4a","pos":6.85,"co":8.8},{"chr":4,"g":"recq4a","pos":7.17,"co":7.2},{"chr":4,"g":"recq4a","pos":7.5,"co":4.8},{"chr":4,"g":"recq4a","pos":7.83,"co":2.4},{"chr":4,"g":"recq4a","pos":8.26,"co":0.8},{"chr":4,"g":"recq4a","pos":8.7,"co":3.2},{"chr":4,"g":"recq4a","pos":9.24,"co":4.8},{"chr":4,"g":"recq4a","pos":9.57,"co":14.4},{"chr":4,"g":"recq4a","pos":9.89,"co":13.6},{"chr":4,"g":"recq4a","pos":10.11,"co":16.7},{"chr":4,"g":"recq4a","pos":10.43,"co":19.9},{"chr":4,"g":"recq4a","pos":10.87,"co":16.7},{"chr":4,"g":"recq4a","pos":11.09,"co":17.5},{"chr":4,"g":"recq4a","pos":11.3,"co":20.7},{"chr":4,"g":"recq4a","pos":11.63,"co":15.2},{"chr":4,"g":"recq4a","pos":11.96,"co":10.4},{"chr":4,"g":"recq4a","pos":12.28,"co":8},{"chr":4,"g":"recq4a","pos":12.61,"co":7.2},{"chr":4,"g":"recq4a","pos":12.93,"co":5.6},{"chr":4,"g":"recq4a","pos":13.37,"co":2.4},{"chr":4,"g":"recq4a","pos":13.59,"co":5.6},{"chr":4,"g":"recq4a","pos":13.91,"co":4.8},{"chr":4,"g":"recq4a","pos":14.24,"co":8},{"chr":4,"g":"recq4a","pos":14.57,"co":7.2},{"chr":4,"g":"recq4a","pos":14.78,"co":8},{"chr":4,"g":"recq4a","pos":15.11,"co":3.2},{"chr":4,"g":"recq4a","pos":15.43,"co":2.4},{"chr":4,"g":"recq4a","pos":15.87,"co":1.6},{"chr":4,"g":"recq4a","pos":16.09,"co":4},{"chr":4,"g":"recq4a","pos":16.52,"co":7.2},{"chr":4,"g":"recq4a","pos":17.07,"co":10.4},{"chr":4,"g":"recq4a","pos":17.28,"co":15.2},{"chr":4,"g":"recq4a","pos":17.5,"co":15.9},{"chr":4,"g":"recq4a","pos":17.72,"co":17.5},{"chr":4,"g":"recq4a","pos":18.04,"co":16.7},{"chr":4,"g":"recq4a","pos":18.26,"co":12},{"chr":4,"g":"recq4a","pos":18.48,"co":7.2},{"chr":4,"g":"recq4a","pos":18.7,"co":3.2},{"chr":4,"g":"recq4a","pos":18.91,"co":0},{"chr":4,"g":"recq4a","pos":31.44,"co":0},
      {"chr":5,"g":"wt","pos":0.43,"co":15.6},{"chr":5,"g":"wt","pos":0.51,"co":18},{"chr":5,"g":"wt","pos":0.75,"co":19.5},{"chr":5,"g":"wt","pos":0.91,"co":18},{"chr":5,"g":"wt","pos":1.07,"co":16.4},{"chr":5,"g":"wt","pos":1.23,"co":14.8},{"chr":5,"g":"wt","pos":1.47,"co":13.3},{"chr":5,"g":"wt","pos":1.63,"co":10.9},{"chr":5,"g":"wt","pos":1.87,"co":7},{"chr":5,"g":"wt","pos":2.1,"co":5.5},{"chr":5,"g":"wt","pos":2.34,"co":7},{"chr":5,"g":"wt","pos":2.66,"co":6.25},{"chr":5,"g":"wt","pos":2.98,"co":7.8},{"chr":5,"g":"wt","pos":3.3,"co":9.4},{"chr":5,"g":"wt","pos":3.54,"co":11.7},{"chr":5,"g":"wt","pos":3.7,"co":10.9},{"chr":5,"g":"wt","pos":3.86,"co":7.8},{"chr":5,"g":"wt","pos":4.1,"co":5.5},{"chr":5,"g":"wt","pos":4.33,"co":3.1},{"chr":5,"g":"wt","pos":4.49,"co":4.7},{"chr":5,"g":"wt","pos":4.73,"co":6.25},{"chr":5,"g":"wt","pos":4.97,"co":7},{"chr":5,"g":"wt","pos":5.13,"co":10.9},{"chr":5,"g":"wt","pos":5.29,"co":7.8},{"chr":5,"g":"wt","pos":5.53,"co":7},{"chr":5,"g":"wt","pos":5.69,"co":9.4},{"chr":5,"g":"wt","pos":5.85,"co":6.25},{"chr":5,"g":"wt","pos":6.01,"co":10.9},{"chr":5,"g":"wt","pos":6.25,"co":10.2},{"chr":5,"g":"wt","pos":6.4,"co":7},{"chr":5,"g":"wt","pos":6.64,"co":6.25},{"chr":5,"g":"wt","pos":6.8,"co":0.8},{"chr":5,"g":"wt","pos":6.96,"co":9.4},{"chr":5,"g":"wt","pos":7.2,"co":14},{"chr":5,"g":"wt","pos":7.44,"co":13.3},{"chr":5,"g":"wt","pos":7.68,"co":18.75},{"chr":5,"g":"wt","pos":7.84,"co":14},{"chr":5,"g":"wt","pos":8.0,"co":15.6},{"chr":5,"g":"wt","pos":8.24,"co":13.3},{"chr":5,"g":"wt","pos":8.39,"co":17.2},{"chr":5,"g":"wt","pos":8.63,"co":15.6},{"chr":5,"g":"wt","pos":8.79,"co":18},{"chr":5,"g":"wt","pos":9.03,"co":14.8},{"chr":5,"g":"wt","pos":9.19,"co":9.4},{"chr":5,"g":"wt","pos":9.27,"co":7.8},{"chr":5,"g":"wt","pos":9.57,"co":6.25},{"chr":5,"g":"wt","pos":9.89,"co":3.1},{"chr":5,"g":"wt","pos":10.22,"co":2.3},{"chr":5,"g":"wt","pos":10.54,"co":1.6},{"chr":5,"g":"wt","pos":10.87,"co":0.8},{"chr":5,"g":"wt","pos":11.09,"co":0},{"chr":5,"g":"wt","pos":13.04,"co":3.1},{"chr":5,"g":"wt","pos":13.37,"co":4.7},{"chr":5,"g":"wt","pos":14.35,"co":6.25},{"chr":5,"g":"wt","pos":14.57,"co":4.7},{"chr":5,"g":"wt","pos":14.78,"co":6.25},{"chr":5,"g":"wt","pos":15.0,"co":9.4},{"chr":5,"g":"wt","pos":15.22,"co":15.6},{"chr":5,"g":"wt","pos":15.43,"co":21},{"chr":5,"g":"wt","pos":15.65,"co":17.2},{"chr":5,"g":"wt","pos":15.87,"co":15.6},{"chr":5,"g":"wt","pos":16.09,"co":12.5},{"chr":5,"g":"wt","pos":16.3,"co":9.4},{"chr":5,"g":"wt","pos":16.63,"co":6.25},{"chr":5,"g":"wt","pos":16.96,"co":3.1},{"chr":5,"g":"wt","pos":17.17,"co":1.6},{"chr":5,"g":"wt","pos":17.5,"co":2.3},{"chr":5,"g":"wt","pos":17.72,"co":6.25},{"chr":5,"g":"wt","pos":17.93,"co":12.5},{"chr":5,"g":"wt","pos":18.15,"co":18},{"chr":5,"g":"wt","pos":18.59,"co":17.2},{"chr":5,"g":"wt","pos":18.8,"co":12.5},{"chr":5,"g":"wt","pos":19.02,"co":7.8},{"chr":5,"g":"wt","pos":19.35,"co":6.25},{"chr":5,"g":"wt","pos":19.57,"co":3.1},{"chr":5,"g":"wt","pos":19.73,"co":5.5},{"chr":5,"g":"wt","pos":19.97,"co":3.9},{"chr":5,"g":"wt","pos":20.21,"co":6.25},{"chr":5,"g":"wt","pos":20.45,"co":4.7},{"chr":5,"g":"wt","pos":20.61,"co":3.1},{"chr":5,"g":"wt","pos":20.77,"co":9.4},{"chr":5,"g":"wt","pos":21.09,"co":8.6},{"chr":5,"g":"wt","pos":21.33,"co":10.9},{"chr":5,"g":"wt","pos":21.48,"co":6.25},{"chr":5,"g":"wt","pos":21.56,"co":12.5},{"chr":5,"g":"wt","pos":21.72,"co":15.6},{"chr":5,"g":"wt","pos":21.96,"co":13.3},{"chr":5,"g":"wt","pos":22.12,"co":14.8},{"chr":5,"g":"wt","pos":22.28,"co":13.3},{"chr":5,"g":"wt","pos":22.36,"co":6.25},{"chr":5,"g":"wt","pos":22.52,"co":5.5},{"chr":5,"g":"wt","pos":22.68,"co":8.6},{"chr":5,"g":"wt","pos":23.0,"co":7.8},{"chr":5,"g":"wt","pos":23.4,"co":7},{"chr":5,"g":"wt","pos":23.55,"co":4.7},{"chr":5,"g":"wt","pos":23.71,"co":1.6},{"chr":5,"g":"wt","pos":23.95,"co":2.3},{"chr":5,"g":"wt","pos":24.19,"co":3.1},{"chr":5,"g":"wt","pos":24.43,"co":4.7},{"chr":5,"g":"wt","pos":24.67,"co":6.25},{"chr":5,"g":"wt","pos":24.91,"co":5.5},{"chr":5,"g":"wt","pos":25.15,"co":6.25},{"chr":5,"g":"wt","pos":25.39,"co":4.7},{"chr":5,"g":"wt","pos":25.63,"co":6.25},{"chr":5,"g":"wt","pos":25.79,"co":8.6},{"chr":5,"g":"wt","pos":25.95,"co":7},{"chr":5,"g":"wt","pos":26.18,"co":6.25},{"chr":5,"g":"wt","pos":26.42,"co":5.5},{"chr":5,"g":"wt","pos":26.66,"co":3.9},{"chr":5,"g":"wt","pos":26.9,"co":2.3},{"chr":5,"g":"wt","pos":27.06,"co":1.6},{"chr":5,"g":"wt","pos":27.22,"co":0},{"chr":5,"g":"wt","pos":31.44,"co":0},
      {"chr":5,"g":"recq4a","pos":0.43,"co":19.5},{"chr":5,"g":"recq4a","pos":0.59,"co":23.4},{"chr":5,"g":"recq4a","pos":0.83,"co":22.7},{"chr":5,"g":"recq4a","pos":0.99,"co":17.2},{"chr":5,"g":"recq4a","pos":1.15,"co":14},{"chr":5,"g":"recq4a","pos":1.31,"co":11.7},{"chr":5,"g":"recq4a","pos":1.55,"co":7.8},{"chr":5,"g":"recq4a","pos":1.79,"co":6.25},{"chr":5,"g":"recq4a","pos":2.03,"co":4.7},{"chr":5,"g":"recq4a","pos":2.26,"co":7},{"chr":5,"g":"recq4a","pos":2.5,"co":4.7},{"chr":5,"g":"recq4a","pos":2.66,"co":1.6},{"chr":5,"g":"recq4a","pos":2.9,"co":0.8},{"chr":5,"g":"recq4a","pos":3.14,"co":3.1},{"chr":5,"g":"recq4a","pos":3.46,"co":3.9},{"chr":5,"g":"recq4a","pos":3.78,"co":7.8},{"chr":5,"g":"recq4a","pos":4.02,"co":6.25},{"chr":5,"g":"recq4a","pos":4.25,"co":5.5},{"chr":5,"g":"recq4a","pos":4.57,"co":6.25},{"chr":5,"g":"recq4a","pos":4.89,"co":4.7},{"chr":5,"g":"recq4a","pos":5.21,"co":6.25},{"chr":5,"g":"recq4a","pos":5.53,"co":5.5},{"chr":5,"g":"recq4a","pos":5.85,"co":6.25},{"chr":5,"g":"recq4a","pos":6.17,"co":5.5},{"chr":5,"g":"recq4a","pos":6.4,"co":3.1},{"chr":5,"g":"recq4a","pos":6.56,"co":6.25},{"chr":5,"g":"recq4a","pos":6.96,"co":10.9},{"chr":5,"g":"recq4a","pos":7.12,"co":14},{"chr":5,"g":"recq4a","pos":7.36,"co":12.5},{"chr":5,"g":"recq4a","pos":8.0,"co":14},{"chr":5,"g":"recq4a","pos":8.24,"co":11.7},{"chr":5,"g":"recq4a","pos":8.39,"co":12.5},{"chr":5,"g":"recq4a","pos":8.55,"co":14},{"chr":5,"g":"recq4a","pos":8.79,"co":15.6},{"chr":5,"g":"recq4a","pos":8.95,"co":13.3},{"chr":5,"g":"recq4a","pos":9.19,"co":11.7},{"chr":5,"g":"recq4a","pos":9.27,"co":10.2},{"chr":5,"g":"recq4a","pos":9.35,"co":8.6},{"chr":5,"g":"recq4a","pos":9.57,"co":6.25},{"chr":5,"g":"recq4a","pos":9.89,"co":4.7},{"chr":5,"g":"recq4a","pos":10.22,"co":3.1},{"chr":5,"g":"recq4a","pos":10.87,"co":1.6},{"chr":5,"g":"recq4a","pos":11.09,"co":0},{"chr":5,"g":"recq4a","pos":12.61,"co":0.8},{"chr":5,"g":"recq4a","pos":13.15,"co":6.25},{"chr":5,"g":"recq4a","pos":13.37,"co":10.9},{"chr":5,"g":"recq4a","pos":13.59,"co":13.3},{"chr":5,"g":"recq4a","pos":13.91,"co":17.2},{"chr":5,"g":"recq4a","pos":14.24,"co":14},{"chr":5,"g":"recq4a","pos":14.57,"co":18.75},{"chr":5,"g":"recq4a","pos":14.89,"co":21.9},{"chr":5,"g":"recq4a","pos":15.11,"co":27.3},{"chr":5,"g":"recq4a","pos":15.33,"co":24.2},{"chr":5,"g":"recq4a","pos":15.54,"co":23.4},{"chr":5,"g":"recq4a","pos":15.76,"co":20.3},{"chr":5,"g":"recq4a","pos":15.98,"co":15.6},{"chr":5,"g":"recq4a","pos":16.3,"co":10.9},{"chr":5,"g":"recq4a","pos":16.63,"co":6.25},{"chr":5,"g":"recq4a","pos":16.96,"co":3.1},{"chr":5,"g":"recq4a","pos":17.28,"co":0.8},{"chr":5,"g":"recq4a","pos":17.61,"co":3.1},{"chr":5,"g":"recq4a","pos":17.93,"co":5.5},{"chr":5,"g":"recq4a","pos":18.26,"co":6.25},{"chr":5,"g":"recq4a","pos":18.7,"co":7},{"chr":5,"g":"recq4a","pos":19.02,"co":5.5},{"chr":5,"g":"recq4a","pos":19.35,"co":6.25},{"chr":5,"g":"recq4a","pos":19.57,"co":4.7},{"chr":5,"g":"recq4a","pos":19.73,"co":6.25},{"chr":5,"g":"recq4a","pos":20.21,"co":8.6},{"chr":5,"g":"recq4a","pos":20.45,"co":7},{"chr":5,"g":"recq4a","pos":20.69,"co":6.25},{"chr":5,"g":"recq4a","pos":20.85,"co":8.6},{"chr":5,"g":"recq4a","pos":21.25,"co":10.2},{"chr":5,"g":"recq4a","pos":21.4,"co":10.9},{"chr":5,"g":"recq4a","pos":21.56,"co":14},{"chr":5,"g":"recq4a","pos":21.8,"co":14.8},{"chr":5,"g":"recq4a","pos":22.04,"co":10.9},{"chr":5,"g":"recq4a","pos":22.2,"co":13.3},{"chr":5,"g":"recq4a","pos":22.36,"co":7.8},{"chr":5,"g":"recq4a","pos":22.6,"co":5.5},{"chr":5,"g":"recq4a","pos":22.76,"co":2.3},{"chr":5,"g":"recq4a","pos":22.92,"co":4.7},{"chr":5,"g":"recq4a","pos":23.4,"co":6.25},{"chr":5,"g":"recq4a","pos":23.63,"co":3.1},{"chr":5,"g":"recq4a","pos":23.88,"co":1.6},{"chr":5,"g":"recq4a","pos":24.03,"co":6.25},{"chr":5,"g":"recq4a","pos":24.27,"co":4.7},{"chr":5,"g":"recq4a","pos":24.51,"co":5.5},{"chr":5,"g":"recq4a","pos":24.83,"co":7.8},{"chr":5,"g":"recq4a","pos":25.15,"co":6.25},{"chr":5,"g":"recq4a","pos":25.39,"co":8.6},{"chr":5,"g":"recq4a","pos":25.55,"co":10.9},{"chr":5,"g":"recq4a","pos":25.71,"co":8.6},{"chr":5,"g":"recq4a","pos":25.87,"co":13.3},{"chr":5,"g":"recq4a","pos":26.02,"co":15.6},{"chr":5,"g":"recq4a","pos":26.18,"co":15.9},{"chr":5,"g":"recq4a","pos":26.34,"co":13.3},{"chr":5,"g":"recq4a","pos":26.5,"co":10.2},{"chr":5,"g":"recq4a","pos":26.74,"co":4.7},{"chr":5,"g":"recq4a","pos":26.98,"co":2.3},{"chr":5,"g":"recq4a","pos":27.19,"co":0},{"chr":5,"g":"recq4a","pos":31.44,"co":0}
    ]
  },
  "vconcat": [
    {
      "title": {"text": "A", "anchor": "start", "frame": "group", "dx": -37, "offset": 3, "fontSize": 18.6, "fontWeight": "bold", "color": "#000"},
      "bounds": "flush",
      "spacing": 58,
      "resolve": {"legend": {"color": "independent"}},
      "vconcat": [
        {
          "width": 628, "height": 64,
          "title": {"text": "Chromosome 1", "fontSize": 14.2, "dx": 27.5, "offset": -2.5},
          "layer": [
            {"data": {"name": "cen"}, "transform": [{"filter": "datum.chr == 1"}], "mark": {"type": "rect", "color": "#dcdcdc"},
             "encoding": {
               "x": {"field": "start", "type": "quantitative", "scale": {"domain": [0, 30], "nice": false, "zero": false}, "axis": {"values": [0,5,10,15,20,25,30], "labels": false, "tickSize": 4, "offset": 2, "title": null, "domainColor": "#555", "tickColor": "#555"}},
               "x2": {"field": "end"},
               "y": {"datum": -0.8, "type": "quantitative", "scale": {"domain": [0, 30], "nice": false, "zero": false}, "axis": {"values": [0,10,20,30], "labelOverlap": false, "offset": 15, "tickSize": 4, "labelAngle": -90, "labelAlign": "center", "labelBaseline": "alphabetic", "labelPadding": 2, "labelFontSize": 12.5, "title": "CO frequency", "titleFontSize": 12.6, "titlePadding": 6, "domainColor": "#111", "tickColor": "#111"}},
               "y2": {"datum": 37}
             }},
            {"data": {"name": "co"}, "transform": [{"filter": "datum.chr == 1 && datum.g == 'wt'"}], "mark": {"type": "line", "interpolate": "step-after", "strokeWidth": 1.5},
             "encoding": {
               "x": {"field": "pos", "type": "quantitative", "scale": {"domain": [0, 30], "nice": false, "zero": false}, "axis": {"values": [0,5,10,15,20,25,30], "labels": false, "tickSize": 4, "offset": 2, "title": null, "domainColor": "#555", "tickColor": "#555"}},
               "y": {"field": "co", "type": "quantitative", "scale": {"domain": [0, 30], "nice": false, "zero": false}, "axis": {"values": [0,10,20,30], "labelOverlap": false, "offset": 15, "tickSize": 4, "labelAngle": -90, "labelAlign": "center", "labelBaseline": "alphabetic", "labelPadding": 2, "labelFontSize": 12.5, "title": "CO frequency", "titleFontSize": 12.6, "titlePadding": 6, "domainColor": "#111", "tickColor": "#111"}},
               "color": {"field": "g", "type": "nominal", "scale": {"domain": ["wt", "recq4a"], "range": ["#cc1424", "#3d4196"]},
                 "legend": {"orient": "none", "legendX": 568, "legendY": -24, "title": null, "symbolType": "stroke", "symbolStrokeWidth": 3, "symbolSize": 300, "labelFontSize": 13, "labelColor": "#111", "rowPadding": 0, "labelOffset": 6, "labelFontStyle": {"expr": "datum.value == 'recq4a' ? 'italic' : 'normal'"}}}}},
            {"data": {"name": "co"}, "transform": [{"filter": "datum.chr == 1 && datum.g == 'recq4a'"}], "mark": {"type": "line", "interpolate": "step-after", "strokeWidth": 1.5},
             "encoding": {
               "x": {"field": "pos", "type": "quantitative", "scale": {"domain": [0, 30], "nice": false, "zero": false}, "axis": {"values": [0,5,10,15,20,25,30], "labels": false, "tickSize": 4, "offset": 2, "title": null, "domainColor": "#555", "tickColor": "#555"}},
               "y": {"field": "co", "type": "quantitative", "scale": {"domain": [0, 30], "nice": false, "zero": false}, "axis": {"values": [0,10,20,30], "labelOverlap": false, "offset": 15, "tickSize": 4, "labelAngle": -90, "labelAlign": "center", "labelBaseline": "alphabetic", "labelPadding": 2, "labelFontSize": 12.5, "title": "CO frequency", "titleFontSize": 12.6, "titlePadding": 6, "domainColor": "#111", "tickColor": "#111"}},
               "color": {"field": "g", "type": "nominal", "scale": {"domain": ["wt", "recq4a"], "range": ["#cc1424", "#3d4196"]}}}}
          ]
        },
        {
          "width": 628, "height": 64,
          "title": {"text": "Chromosome 2", "fontSize": 14.2, "dx": 27.5, "offset": -5.3},
          "layer": [
            {"data": {"name": "cen"}, "transform": [{"filter": "datum.chr == 2"}], "mark": {"type": "rect", "color": "#dcdcdc"},
             "encoding": {
               "x": {"field": "start", "type": "quantitative", "scale": {"domain": [0, 30], "nice": false, "zero": false}, "axis": {"values": [0,5,10,15,20,25,30], "labels": false, "tickSize": 4, "offset": 2, "title": null, "domainColor": "#555", "tickColor": "#555"}},
               "x2": {"field": "end"},
               "y": {"datum": -0.8, "type": "quantitative", "scale": {"domain": [0, 30], "nice": false, "zero": false}, "axis": {"values": [0,10,20,30], "labelOverlap": false, "offset": 15, "tickSize": 4, "labelAngle": -90, "labelAlign": "center", "labelBaseline": "alphabetic", "labelPadding": 2, "labelFontSize": 12.5, "title": "CO frequency", "titleFontSize": 12.6, "titlePadding": 6, "domainColor": "#111", "tickColor": "#111"}},
               "y2": {"datum": 37}
             }},
            {"data": {"name": "co"}, "transform": [{"filter": "datum.chr == 2 && datum.g == 'wt'"}], "mark": {"type": "line", "interpolate": "step-after", "strokeWidth": 1.5},
             "encoding": {
               "x": {"field": "pos", "type": "quantitative", "scale": {"domain": [0, 30], "nice": false, "zero": false}, "axis": {"values": [0,5,10,15,20,25,30], "labels": false, "tickSize": 4, "offset": 2, "title": null, "domainColor": "#555", "tickColor": "#555"}},
               "y": {"field": "co", "type": "quantitative", "scale": {"domain": [0, 30], "nice": false, "zero": false}, "axis": {"values": [0,10,20,30], "labelOverlap": false, "offset": 15, "tickSize": 4, "labelAngle": -90, "labelAlign": "center", "labelBaseline": "alphabetic", "labelPadding": 2, "labelFontSize": 12.5, "title": "CO frequency", "titleFontSize": 12.6, "titlePadding": 6, "domainColor": "#111", "tickColor": "#111"}},
               "color": {"field": "g", "type": "nominal", "scale": {"domain": ["wt", "recq4a"], "range": ["#cc1424", "#3d4196"]}, "legend": null}}},
            {"data": {"name": "co"}, "transform": [{"filter": "datum.chr == 2 && datum.g == 'recq4a'"}], "mark": {"type": "line", "interpolate": "step-after", "strokeWidth": 1.5},
             "encoding": {
               "x": {"field": "pos", "type": "quantitative", "scale": {"domain": [0, 30], "nice": false, "zero": false}, "axis": {"values": [0,5,10,15,20,25,30], "labels": false, "tickSize": 4, "offset": 2, "title": null, "domainColor": "#555", "tickColor": "#555"}},
               "y": {"field": "co", "type": "quantitative", "scale": {"domain": [0, 30], "nice": false, "zero": false}, "axis": {"values": [0,10,20,30], "labelOverlap": false, "offset": 15, "tickSize": 4, "labelAngle": -90, "labelAlign": "center", "labelBaseline": "alphabetic", "labelPadding": 2, "labelFontSize": 12.5, "title": "CO frequency", "titleFontSize": 12.6, "titlePadding": 6, "domainColor": "#111", "tickColor": "#111"}},
               "color": {"field": "g", "type": "nominal", "scale": {"domain": ["wt", "recq4a"], "range": ["#cc1424", "#3d4196"]}, "legend": null}}}
          ]
        },
        {
          "width": 628, "height": 64,
          "title": {"text": "Chromosome 3", "fontSize": 14.2, "dx": 27.5, "offset": 3.5},
          "layer": [
            {"data": {"name": "cen"}, "transform": [{"filter": "datum.chr == 3"}], "mark": {"type": "rect", "color": "#dcdcdc"},
             "encoding": {
               "x": {"field": "start", "type": "quantitative", "scale": {"domain": [0, 30], "nice": false, "zero": false}, "axis": {"values": [0,5,10,15,20,25,30], "labels": false, "tickSize": 4, "offset": 2, "title": null, "domainColor": "#555", "tickColor": "#555"}},
               "x2": {"field": "end"},
               "y": {"datum": -0.8, "type": "quantitative", "scale": {"domain": [0, 30], "nice": false, "zero": false}, "axis": {"values": [0,10,20,30], "labelOverlap": false, "offset": 15, "tickSize": 4, "labelAngle": -90, "labelAlign": "center", "labelBaseline": "alphabetic", "labelPadding": 2, "labelFontSize": 12.5, "title": "CO frequency", "titleFontSize": 12.6, "titlePadding": 6, "domainColor": "#111", "tickColor": "#111"}},
               "y2": {"datum": 37.5}
             }},
            {"data": {"name": "co"}, "transform": [{"filter": "datum.chr == 3 && datum.g == 'wt'"}], "mark": {"type": "line", "interpolate": "step-after", "strokeWidth": 1.5},
             "encoding": {
               "x": {"field": "pos", "type": "quantitative", "scale": {"domain": [0, 30], "nice": false, "zero": false}, "axis": {"values": [0,5,10,15,20,25,30], "labels": false, "tickSize": 4, "offset": 2, "title": null, "domainColor": "#555", "tickColor": "#555"}},
               "y": {"field": "co", "type": "quantitative", "scale": {"domain": [0, 30], "nice": false, "zero": false}, "axis": {"values": [0,10,20,30], "labelOverlap": false, "offset": 15, "tickSize": 4, "labelAngle": -90, "labelAlign": "center", "labelBaseline": "alphabetic", "labelPadding": 2, "labelFontSize": 12.5, "title": "CO frequency", "titleFontSize": 12.6, "titlePadding": 6, "domainColor": "#111", "tickColor": "#111"}},
               "color": {"field": "g", "type": "nominal", "scale": {"domain": ["wt", "recq4a"], "range": ["#cc1424", "#3d4196"]}, "legend": null}}},
            {"data": {"name": "co"}, "transform": [{"filter": "datum.chr == 3 && datum.g == 'recq4a'"}], "mark": {"type": "line", "interpolate": "step-after", "strokeWidth": 1.5},
             "encoding": {
               "x": {"field": "pos", "type": "quantitative", "scale": {"domain": [0, 30], "nice": false, "zero": false}, "axis": {"values": [0,5,10,15,20,25,30], "labels": false, "tickSize": 4, "offset": 2, "title": null, "domainColor": "#555", "tickColor": "#555"}},
               "y": {"field": "co", "type": "quantitative", "scale": {"domain": [0, 30], "nice": false, "zero": false}, "axis": {"values": [0,10,20,30], "labelOverlap": false, "offset": 15, "tickSize": 4, "labelAngle": -90, "labelAlign": "center", "labelBaseline": "alphabetic", "labelPadding": 2, "labelFontSize": 12.5, "title": "CO frequency", "titleFontSize": 12.6, "titlePadding": 6, "domainColor": "#111", "tickColor": "#111"}},
               "color": {"field": "g", "type": "nominal", "scale": {"domain": ["wt", "recq4a"], "range": ["#cc1424", "#3d4196"]}, "legend": null}}}
          ]
        },
        {
          "width": 628, "height": 64,
          "title": {"text": "Chromosome 4", "fontSize": 14.2, "dx": 27.5, "offset": 5.5},
          "layer": [
            {"data": {"name": "cen"}, "transform": [{"filter": "datum.chr == 4"}], "mark": {"type": "rect", "color": "#dcdcdc"},
             "encoding": {
               "x": {"field": "start", "type": "quantitative", "scale": {"domain": [0, 30], "nice": false, "zero": false}, "axis": {"values": [0,5,10,15,20,25,30], "labels": false, "tickSize": 4, "offset": 2, "title": null, "domainColor": "#555", "tickColor": "#555"}},
               "x2": {"field": "end"},
               "y": {"datum": -0.8, "type": "quantitative", "scale": {"domain": [0, 30], "nice": false, "zero": false}, "axis": {"values": [0,10,20,30], "labelOverlap": false, "offset": 15, "tickSize": 4, "labelAngle": -90, "labelAlign": "center", "labelBaseline": "alphabetic", "labelPadding": 2, "labelFontSize": 12.5, "title": "CO frequency", "titleFontSize": 12.6, "titlePadding": 6, "domainColor": "#111", "tickColor": "#111"}},
               "y2": {"datum": 37}
             }},
            {"data": {"name": "co"}, "transform": [{"filter": "datum.chr == 4 && datum.g == 'wt'"}], "mark": {"type": "line", "interpolate": "step-after", "strokeWidth": 1.5},
             "encoding": {
               "x": {"field": "pos", "type": "quantitative", "scale": {"domain": [0, 30], "nice": false, "zero": false}, "axis": {"values": [0,5,10,15,20,25,30], "labels": false, "tickSize": 4, "offset": 2, "title": null, "domainColor": "#555", "tickColor": "#555"}},
               "y": {"field": "co", "type": "quantitative", "scale": {"domain": [0, 30], "nice": false, "zero": false}, "axis": {"values": [0,10,20,30], "labelOverlap": false, "offset": 15, "tickSize": 4, "labelAngle": -90, "labelAlign": "center", "labelBaseline": "alphabetic", "labelPadding": 2, "labelFontSize": 12.5, "title": "CO frequency", "titleFontSize": 12.6, "titlePadding": 6, "domainColor": "#111", "tickColor": "#111"}},
               "color": {"field": "g", "type": "nominal", "scale": {"domain": ["wt", "recq4a"], "range": ["#cc1424", "#3d4196"]}, "legend": null}}},
            {"data": {"name": "co"}, "transform": [{"filter": "datum.chr == 4 && datum.g == 'recq4a'"}], "mark": {"type": "line", "interpolate": "step-after", "strokeWidth": 1.5},
             "encoding": {
               "x": {"field": "pos", "type": "quantitative", "scale": {"domain": [0, 30], "nice": false, "zero": false}, "axis": {"values": [0,5,10,15,20,25,30], "labels": false, "tickSize": 4, "offset": 2, "title": null, "domainColor": "#555", "tickColor": "#555"}},
               "y": {"field": "co", "type": "quantitative", "scale": {"domain": [0, 30], "nice": false, "zero": false}, "axis": {"values": [0,10,20,30], "labelOverlap": false, "offset": 15, "tickSize": 4, "labelAngle": -90, "labelAlign": "center", "labelBaseline": "alphabetic", "labelPadding": 2, "labelFontSize": 12.5, "title": "CO frequency", "titleFontSize": 12.6, "titlePadding": 6, "domainColor": "#111", "tickColor": "#111"}},
               "color": {"field": "g", "type": "nominal", "scale": {"domain": ["wt", "recq4a"], "range": ["#cc1424", "#3d4196"]}, "legend": null}}}
          ]
        },
        {
          "width": 628, "height": 64,
          "title": {"text": "Chromosome 5", "fontSize": 14.2, "dx": 27.5, "offset": 5.5},
          "layer": [
            {"data": {"name": "cen"}, "transform": [{"filter": "datum.chr == 5"}], "mark": {"type": "rect", "color": "#dcdcdc"},
             "encoding": {
               "x": {"field": "start", "type": "quantitative", "scale": {"domain": [0, 30], "nice": false, "zero": false}, "axis": {"values": [0,5,10,15,20,25,30], "labels": true, "labelFontSize": 12, "labelPadding": 6, "tickSize": 4, "offset": 2, "title": "Position (Mb)", "titleFontSize": 14.5, "titlePadding": 6, "domainColor": "#555", "tickColor": "#555"}},
               "x2": {"field": "end"},
               "y": {"datum": -0.8, "type": "quantitative", "scale": {"domain": [0, 30], "nice": false, "zero": false}, "axis": {"values": [0,10,20,30], "labelOverlap": false, "offset": 15, "tickSize": 4, "labelAngle": -90, "labelAlign": "center", "labelBaseline": "alphabetic", "labelPadding": 2, "labelFontSize": 12.5, "title": "CO frequency", "titleFontSize": 12.6, "titlePadding": 6, "domainColor": "#111", "tickColor": "#111"}},
               "y2": {"datum": 37.5}
             }},
            {"data": {"name": "co"}, "transform": [{"filter": "datum.chr == 5 && datum.g == 'wt'"}], "mark": {"type": "line", "interpolate": "step-after", "strokeWidth": 1.5},
             "encoding": {
               "x": {"field": "pos", "type": "quantitative", "scale": {"domain": [0, 30], "nice": false, "zero": false}, "axis": {"values": [0,5,10,15,20,25,30], "labels": true, "labelFontSize": 12, "labelPadding": 6, "tickSize": 4, "offset": 2, "title": "Position (Mb)", "titleFontSize": 14.5, "titlePadding": 6, "domainColor": "#555", "tickColor": "#555"}},
               "y": {"field": "co", "type": "quantitative", "scale": {"domain": [0, 30], "nice": false, "zero": false}, "axis": {"values": [0,10,20,30], "labelOverlap": false, "offset": 15, "tickSize": 4, "labelAngle": -90, "labelAlign": "center", "labelBaseline": "alphabetic", "labelPadding": 2, "labelFontSize": 12.5, "title": "CO frequency", "titleFontSize": 12.6, "titlePadding": 6, "domainColor": "#111", "tickColor": "#111"}},
               "color": {"field": "g", "type": "nominal", "scale": {"domain": ["wt", "recq4a"], "range": ["#cc1424", "#3d4196"]}, "legend": null}}},
            {"data": {"name": "co"}, "transform": [{"filter": "datum.chr == 5 && datum.g == 'recq4a'"}], "mark": {"type": "line", "interpolate": "step-after", "strokeWidth": 1.5},
             "encoding": {
               "x": {"field": "pos", "type": "quantitative", "scale": {"domain": [0, 30], "nice": false, "zero": false}, "axis": {"values": [0,5,10,15,20,25,30], "labels": true, "labelFontSize": 12, "labelPadding": 6, "tickSize": 4, "offset": 2, "title": "Position (Mb)", "titleFontSize": 14.5, "titlePadding": 6, "domainColor": "#555", "tickColor": "#555"}},
               "y": {"field": "co", "type": "quantitative", "scale": {"domain": [0, 30], "nice": false, "zero": false}, "axis": {"values": [0,10,20,30], "labelOverlap": false, "offset": 15, "tickSize": 4, "labelAngle": -90, "labelAlign": "center", "labelBaseline": "alphabetic", "labelPadding": 2, "labelFontSize": 12.5, "title": "CO frequency", "titleFontSize": 12.6, "titlePadding": 6, "domainColor": "#111", "tickColor": "#111"}},
               "color": {"field": "g", "type": "nominal", "scale": {"domain": ["wt", "recq4a"], "range": ["#cc1424", "#3d4196"]}, "legend": null}}}
          ]
        }
      ]
    },
    {
      "hconcat": [
        {
          "width": 230, "height": 188,
          "title": {"text": "B", "anchor": "start", "frame": "group", "dx": -39, "offset": 4, "fontSize": 18.6, "fontWeight": "bold", "color": "#000"},
          "resolve": {"axis": {"x": "independent", "y": "independent"}},
          "layer": [
            {"data": {"name": "bbox"}, "mark": {"type": "rule", "strokeDash": [2, 2], "color": "#555", "strokeWidth": 1},
             "encoding": {
               "x": {"field": "g", "type": "nominal", "sort": null, "scale": {"domain": ["wt", "recq4a"], "range": [19.7, 229.7], "paddingInner": 0.2, "paddingOuter": 0.18},
                 "axis": {"orient": "bottom", "title": null, "ticks": false, "labelAngle": 0, "labelFontSize": 14, "labelPadding": -1, "domainColor": "#808080", "labelFontStyle": {"condition": {"test": "datum.value == 'recq4a'", "value": "italic"}, "value": "normal"}}},
               "y": {"field": "lo", "type": "quantitative", "scale": {"domain": [-0.24, 6.24], "nice": false, "zero": false},
                 "axis": {"orient": "left", "offset": -19.7, "values": [0,1,2,3,4,5,6], "labelOverlap": false, "tickSize": 5.7, "labelAngle": -90, "labelAlign": "center", "labelBaseline": "alphabetic", "labelPadding": 3, "labelFontSize": 13, "title": "CO number per chromosome", "titleFontSize": 14.3, "titlePadding": 4, "domainColor": "#808080", "tickColor": "#808080"}},
               "y2": {"field": "hi"}
             }},
            {"data": {"name": "bbox"}, "mark": {"type": "bar", "stroke": "#333", "strokeWidth": 0.6},
             "encoding": {"x": {"field": "g", "type": "nominal", "axis": null}, "y": {"field": "q1", "type": "quantitative", "axis": null}, "y2": {"field": "q3"},
               "fill": {"field": "g", "type": "nominal", "scale": {"domain": ["wt", "recq4a"], "range": ["#c4001a", "#2e2a7d"]}, "legend": null}}},
            {"data": {"name": "bbox"}, "mark": {"type": "tick", "size": 39, "thickness": 1, "color": "#777", "opacity": 1},
             "encoding": {"x": {"field": "g", "type": "nominal", "axis": null}, "y": {"field": "lo", "type": "quantitative", "axis": null}}},
            {"data": {"name": "bbox"}, "mark": {"type": "tick", "size": 39, "thickness": 1, "color": "#777", "opacity": 1},
             "encoding": {"x": {"field": "g", "type": "nominal", "axis": null}, "y": {"field": "hi", "type": "quantitative", "axis": null}}},
            {"data": {"name": "bbox"}, "transform": [{"filter": "datum.g == 'wt'"}], "mark": {"type": "tick", "size": 78, "thickness": 2.5, "color": "#4a0810", "opacity": 1},
             "encoding": {"x": {"field": "g", "type": "nominal", "axis": null}, "y": {"field": "med", "type": "quantitative", "axis": null}}},
            {"data": {"name": "bbox"}, "transform": [{"filter": "datum.g == 'recq4a'"}], "mark": {"type": "tick", "size": 78, "thickness": 2.5, "color": "#121136", "opacity": 1},
             "encoding": {"x": {"field": "g", "type": "nominal", "axis": null}, "y": {"field": "med", "type": "quantitative", "axis": null}}},
            {"data": {"name": "bout"}, "mark": {"type": "point", "shape": "circle", "filled": false, "size": 14, "strokeWidth": 0.8, "color": "#555", "opacity": 1},
             "encoding": {
               "x": {"field": "g", "type": "nominal", "axis": {"orient": "top", "title": null, "labels": false, "ticks": false, "domainColor": "#808080"}},
               "y": {"field": "v", "type": "quantitative", "axis": {"orient": "right", "title": null, "labels": false, "ticks": false, "domainColor": "#808080"}}
             }}
          ]
        },
        {
          "width": 209, "height": 188,
          "title": {"text": "C", "anchor": "start", "frame": "group", "dx": -78, "offset": 4, "fontSize": 18.6, "fontWeight": "bold", "color": "#000"},
          "resolve": {"axis": {"x": "independent", "y": "independent"}},
          "layer": [
            {"data": {"name": "cbox"}, "mark": {"type": "rule", "strokeDash": [2, 2], "color": "#555", "strokeWidth": 1},
             "encoding": {
               "x": {"field": "g", "type": "nominal", "sort": null, "scale": {"domain": ["wt", "recq4a"], "paddingInner": 0.2, "paddingOuter": 0.18},
                 "axis": {"orient": "bottom", "title": null, "ticks": false, "labelAngle": 0, "labelFontSize": 14, "labelPadding": -1, "domainColor": "#808080", "labelFontStyle": {"condition": {"test": "datum.value == 'recq4a'", "value": "italic"}, "value": "normal"}}},
               "y": {"field": "lo", "type": "quantitative", "scale": {"domain": [-0.12, 31.39], "nice": false, "zero": false},
                 "axis": {"orient": "left", "values": [0,5,10,15,20,25,30], "labelOverlap": false, "tickSize": 5.7, "labelAngle": -90, "labelAlign": "center", "labelBaseline": "alphabetic", "labelPadding": 3, "labelFontSize": 13, "title": "Inter-CO distance (Mb)", "titleFontSize": 16, "titleY": 82, "titlePadding": 4, "domainColor": "#808080", "tickColor": "#808080"}},
               "y2": {"field": "hi"}
             }},
            {"data": {"name": "cbox"}, "mark": {"type": "bar", "stroke": "#333", "strokeWidth": 0.6},
             "encoding": {"x": {"field": "g", "type": "nominal", "axis": null}, "y": {"field": "q1", "type": "quantitative", "axis": null}, "y2": {"field": "q3"},
               "fill": {"field": "g", "type": "nominal", "scale": {"domain": ["wt", "recq4a"], "range": ["#c4001a", "#2e2a7d"]}, "legend": null}}},
            {"data": {"name": "cbox"}, "mark": {"type": "tick", "size": 39, "thickness": 1, "color": "#777", "opacity": 1},
             "encoding": {"x": {"field": "g", "type": "nominal", "axis": null}, "y": {"field": "lo", "type": "quantitative", "axis": null}}},
            {"data": {"name": "cbox"}, "mark": {"type": "tick", "size": 39, "thickness": 1, "color": "#777", "opacity": 1},
             "encoding": {"x": {"field": "g", "type": "nominal", "axis": null}, "y": {"field": "hi", "type": "quantitative", "axis": null}}},
            {"data": {"name": "cbox"}, "transform": [{"filter": "datum.g == 'wt'"}], "mark": {"type": "tick", "size": 78, "thickness": 2.5, "color": "#4a0810", "opacity": 1},
             "encoding": {"x": {"field": "g", "type": "nominal", "axis": null}, "y": {"field": "med", "type": "quantitative", "axis": null}}},
            {"data": {"name": "cbox"}, "transform": [{"filter": "datum.g == 'recq4a'"}], "mark": {"type": "tick", "size": 78, "thickness": 2.5, "color": "#121136", "opacity": 1},
             "encoding": {"x": {"field": "g", "type": "nominal", "axis": null}, "y": {"field": "med", "type": "quantitative", "axis": null}}},
            {"data": {"name": "cout"}, "mark": {"type": "point", "shape": "circle", "filled": false, "size": 14, "strokeWidth": 0.8, "color": "#555", "opacity": 1},
             "encoding": {
               "x": {"field": "g", "type": "nominal", "axis": {"orient": "top", "title": null, "labels": false, "ticks": false, "domainColor": "#808080"}},
               "y": {"field": "v", "type": "quantitative", "axis": {"orient": "right", "title": null, "labels": false, "ticks": false, "domainColor": "#808080"}}
             }}
          ]
        }
      ],
      "bounds": "flush",
      "spacing": 171.7
    }
  ],
  "spacing": 40.5
}
